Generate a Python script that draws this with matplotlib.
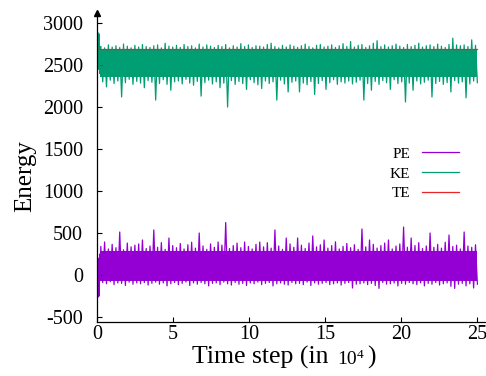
import matplotlib
matplotlib.use("Agg")
import matplotlib.pyplot as plt
import numpy as np

plt.rcParams['font.family'] = ['Liberation Serif', 'DejaVu Serif']
plt.rcParams['axes.unicode_minus'] = False

# start-up transient (time step in 1e4)
t_start = [0.0, 0.03, 0.06, 0.09, 0.12, 0.15, 0.18, 0.21]
pe_start = [990, -270, 50, -260, 200, -250, 250, -60]
ke_start = [850, 2890, 2600, 2880, 2450, 2870, 2400, 2700]

# solid core of each band (where the trace is too dense to resolve)
pe_core = (-70, 285)
ke_core = (2360, 2695)

# upper / lower extent of the fluctuations, one pair per 0.25 of time
pe_hi = [340, 393, 310, 365, 325, 512, 300, 380, 335, 355,
         370, 417, 315, 345, 536, 330, 385, 305, 440, 350,
         325, 375, 310, 360, 390, 320, 500, 345, 305, 370,
         330, 393, 355, 625, 315, 350, 380, 325, 393, 340,
         310, 365, 393, 335, 385, 320, 536, 345, 305, 440,
         370, 330, 440, 355, 315, 380, 465, 335, 360, 417,
         320, 350, 395, 310, 340, 375, 325, 360, 305, 548,
         335, 417, 365, 320, 350, 380, 417, 310, 345, 370,
         571, 330, 440, 350, 385, 315, 345, 500, 330, 365,
         320, 390, 476, 340, 355, 310, 512, 345, 330, 360]
pe_lo = [-90, -105, -80, -115, -95, -100, -125, -85, -110, -95,
         -105, -90, -120, -100, -85, -110, -95, -130, -105, -90,
         -115, -100, -85, -125, -95, -110, -90, -105, -130, -100,
         -95, -115, -85, -105, -120, -90, -110, -100, -125, -95,
         -105, -85, -115, -100, -90, -130, -105, -95, -110, -120,
         -90, -105, -100, -115, -85, -125, -95, -110, -100, -90,
         -115, -105, -95, -120, -100, -90, -155, -110, -105, -95,
         -115, -100, -125, -160, -90, -110, -105, -95, -130, -100,
         -110, -90, -105, -115, -95, -130, -100, -110, -90, -120,
         -105, -95, -135, -160, -110, -100, -130, -105, -155, -110]
ke_hi = [2720, 2705, 2740, 2715, 2730, 2710, 2750, 2725, 2705, 2735,
         2715, 2745, 2720, 2710, 2730, 2740, 2705, 2760, 2725, 2715,
         2735, 2710, 2745, 2720, 2730, 2705, 2750, 2715, 2740, 2725,
         2710, 2735, 2720, 2745, 2705, 2730, 2715, 2755, 2720, 2740,
         2710, 2730, 2725, 2715, 2745, 2760, 2720, 2705, 2735, 2715,
         2740, 2725, 2710, 2730, 2750, 2720, 2705, 2735, 2745, 2715,
         2725, 2740, 2710, 2730, 2755, 2720, 2780, 2715, 2735, 2745,
         2710, 2730, 2760, 2790, 2720, 2740, 2715, 2730, 2750, 2725,
         2710, 2745, 2720, 2735, 2760, 2715, 2730, 2740, 2720, 2750,
         2725, 2710, 2745, 2820, 2740, 2730, 2740, 2720, 2800, 2735]
ke_lo = [2300, 2240, 2320, 2280, 2310, 2120, 2290, 2330, 2270, 2305,
         2285, 2230, 2315, 2295, 2083, 2280, 2325, 2270, 2200, 2300,
         2310, 2275, 2330, 2285, 2260, 2305, 2130, 2290, 2320, 2275,
         2300, 2230, 2285, 2000, 2315, 2270, 2305, 2280, 2210, 2325,
         2290, 2265, 2220, 2310, 2280, 2300, 2083, 2320, 2275, 2180,
         2295, 2310, 2180, 2285, 2265, 2305, 2150, 2280, 2315, 2210,
         2290, 2325, 2270, 2300, 2285, 2310, 2275, 2295, 2320, 2083,
         2280, 2200, 2305, 2270, 2315, 2290, 2210, 2325, 2280, 2300,
         2060, 2285, 2200, 2310, 2275, 2295, 2320, 2120, 2280, 2305,
         2270, 2290, 2180, 2315, 2285, 2300, 2110, 2275, 2310, 2290]
te_level = 2690

x_ticks = [0, 5, 10, 15, 20, 25]
y_ticks = [-500, 0, 500, 1000, 1500, 2000, 2500, 3000]

c_pe = '#9400d3'
c_ke = '#009e73'
c_te = '#e8262a'


def series(start_t, start_v, hi, lo):
    # alternate between the high and low readings -> dense fluctuating band
    t = np.linspace(0.25, 25, 2 * len(hi))
    v = np.column_stack([hi, lo]).ravel()
    return np.concatenate([start_t, t]), np.concatenate([start_v, v])


fig = plt.figure(figsize=(4.86, 3.76), dpi=100)
ax = fig.add_axes([97 / 486, 54 / 376, 388 / 486, 309 / 376])

t_pe, v_pe = series(t_start, pe_start, pe_hi, pe_lo)
t_ke, v_ke = series(t_start, ke_start, ke_hi, ke_lo)
ax.fill_between([0.2, 25], pe_core[0], pe_core[1], color=c_pe, lw=0)
ax.plot(t_pe, v_pe, color=c_pe, lw=0.9, label='PE')
ax.fill_between([0.2, 25], ke_core[0], ke_core[1], color=c_ke, lw=0)
ax.plot(t_ke, v_ke, color=c_ke, lw=0.9, label='KE')
ax.plot([0, 25], [te_level, te_level], color=c_te, lw=0.9, label='TE')

ax.set_xlim(0, 25.5)
ax.set_ylim(-560, 3120)
ax.set_xticks(x_ticks)
ax.set_yticks(y_ticks)
ax.tick_params(direction='in', length=3.5, width=0.8, labelsize=14.5,
               top=False, right=False)
ax.tick_params(axis='x', pad=2)
ax.tick_params(axis='y', pad=10)
for s in ['top', 'right']:
    ax.spines[s].set_visible(False)
for s in ['left', 'bottom']:
    ax.spines[s].set_linewidth(0.9)
ax.plot([0], [1], marker='^', color='black', ms=5, transform=ax.transAxes,
        clip_on=False)

ax.legend(loc='upper right', bbox_to_anchor=(459 / 486, 1 - 147 / 376),
          bbox_transform=fig.transFigure, frameon=False, markerfirst=False,
          fontsize=11, handlelength=2.4, handletextpad=0.8, labelspacing=0.4,
          borderpad=0, borderaxespad=0)

fig.text(25 / 486, 1 - 176 / 376, 'Energy', rotation=90, fontsize=18,
         ha='center', va='center')

# "Time step (in 10^4)" with a smaller power of ten
t1 = fig.text(192 / 486, 1 - 364 / 376, 'Time step (in', fontsize=18.5,
              ha='left', va='baseline')
t2 = ax.annotate('10', xy=(1, 0), xycoords=t1, xytext=(6, 4),
                 textcoords='offset points', fontsize=14, va='baseline')
t3 = ax.annotate('4', xy=(1, 1), xycoords=t2, xytext=(0.5, 1.5),
                 textcoords='offset points', fontsize=9.5, va='top')
ax.annotate(')', xy=(1, 0), xycoords=(t3, t1), xytext=(2.5, 0),
            textcoords='offset points', fontsize=18.5, va='bottom')

fig.savefig('out.png', dpi=100)
